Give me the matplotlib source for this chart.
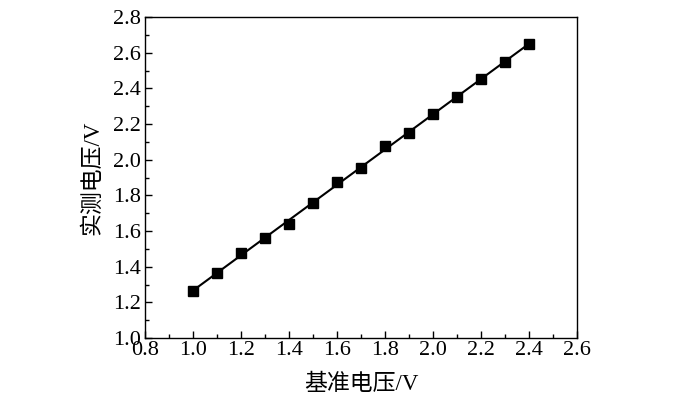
import numpy as np
import matplotlib; matplotlib.use("Agg")
import matplotlib.pyplot as plt
from matplotlib.ticker import MultipleLocator

# 基准电压 / 实测电压 (V)
ref_v = [1.0, 1.1, 1.2, 1.3, 1.4, 1.5, 1.6, 1.7, 1.8, 1.9, 2.0, 2.1, 2.2, 2.3, 2.4]
meas_v = [1.263, 1.362, 1.478, 1.559, 1.639, 1.759, 1.876, 1.955, 2.077, 2.148,
          2.254, 2.35, 2.45, 2.55, 2.649]
x_ticks = [0.8, 1.0, 1.2, 1.4, 1.6, 1.8, 2.0, 2.2, 2.4, 2.6]
y_ticks = [1.0, 1.2, 1.4, 1.6, 1.8, 2.0, 2.2, 2.4, 2.6, 2.8]

FAM = ["Liberation Serif", "Noto Sans CJK SC"]
plt.rcParams.update({"font.family": FAM, "font.size": 16})

fig = plt.figure(figsize=(7.0, 3.98), dpi=100)
ax = fig.add_axes([145/700, 1-338/398, (577-145)/700, (338-17)/398])

# linear fit line + measured points
x = np.array(ref_v); y = np.array(meas_v)
k, b = np.polyfit(x, y, 1)
ax.plot(x, k*x + b, "-", color="black", lw=1.5)
ax.plot(x, y, "s", color="black", ms=6.5)

ax.set_xlim(0.8, 2.6); ax.set_ylim(1.0, 2.8)
ax.set_xticks(x_ticks); ax.set_yticks(y_ticks)
ax.set_xticklabels([f"{v:.1f}" for v in x_ticks])
ax.set_yticklabels([f"{v:.1f}" for v in y_ticks])
ax.xaxis.set_minor_locator(MultipleLocator(0.1))
ax.yaxis.set_minor_locator(MultipleLocator(0.1))
ax.tick_params(which="both", direction="in", top=False, right=False, width=1.0)
ax.tick_params(which="major", length=5)
ax.tick_params(axis="x", which="major", pad=2)
ax.tick_params(axis="y", which="major", pad=3)
ax.tick_params(which="minor", length=3)
for s in ax.spines.values():
    s.set_linewidth(1.0)

ax.set_xlabel("基准电压/V", fontsize=16.5, labelpad=10, fontweight="light")
ax.set_ylabel("实测电压/V", fontsize=16.5, labelpad=7, fontweight="light")

fig.savefig("out.png", dpi=100)
